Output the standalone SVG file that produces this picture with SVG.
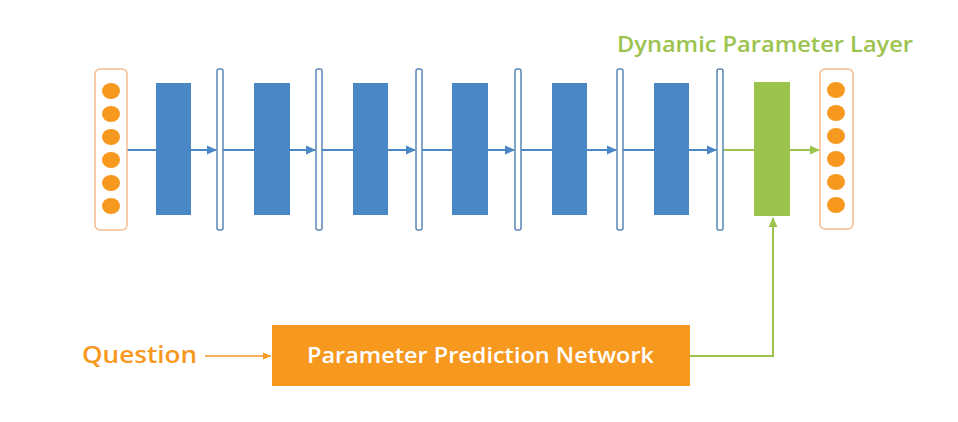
<svg xmlns="http://www.w3.org/2000/svg" width="958" height="422" viewBox="0 0 958 422">
<defs>
<style>
.io{fill:#fff;stroke:#F6BC8E;stroke-width:1.5}
.dot{fill:#F7981F}
.blk{fill:#4A87C7}
.bar{fill:#fff;stroke:#5B87B8;stroke-width:1.5}
.grn{fill:#9DC34F}
.cb{stroke:#4A87C7;stroke-width:2;fill:none}
.cg{stroke:#9DC34F;stroke-width:2;fill:none}
.co{stroke:#F7981F;stroke-width:1.5;fill:none}
.t{font-family:"Open Sans","Liberation Sans",sans-serif;font-weight:600}
</style>
<marker id="ab" markerWidth="11" markerHeight="11" refX="9" refY="5.5" orient="auto" markerUnits="userSpaceOnUse"><path d="M0,1 L10,5.5 L0,10 Z" fill="#4A87C7"/></marker>
<marker id="ag" markerWidth="11" markerHeight="11" refX="9" refY="5.5" orient="auto" markerUnits="userSpaceOnUse"><path d="M0,1 L10,5.5 L0,10 Z" fill="#9DC34F"/></marker>
<marker id="ao" markerWidth="10" markerHeight="10" refX="8" refY="5" orient="auto" markerUnits="userSpaceOnUse"><path d="M0,1.5 L8,5 L0,8.5 Z" fill="#F7981F"/></marker>
</defs>
<rect width="958" height="422" fill="#fff"/>
<g id="connectors">
<line class="cb" x1="127" y1="150" x2="216" y2="150" marker-end="url(#ab)"/>
<line class="cb" x1="223" y1="150" x2="315" y2="150" marker-end="url(#ab)"/>
<line class="cb" x1="322" y1="150" x2="415" y2="150" marker-end="url(#ab)"/>
<line class="cb" x1="422" y1="150" x2="514" y2="150" marker-end="url(#ab)"/>
<line class="cb" x1="521" y1="150" x2="616" y2="150" marker-end="url(#ab)"/>
<line class="cb" x1="623" y1="150" x2="716" y2="150" marker-end="url(#ab)"/>
<line class="cg" x1="723" y1="150" x2="819" y2="150" marker-end="url(#ag)"/>
<polyline class="cg" points="690,356 773,356 773,218" marker-end="url(#ag)"/>
<line class="co" x1="205" y1="356" x2="271" y2="356" marker-end="url(#ao)"/>
</g>
<g id="input">
<rect class="io" x="95" y="69" width="32" height="161" rx="5"/>
<ellipse class="dot" cx="111" cy="91" rx="9" ry="8"/>
<ellipse class="dot" cx="111" cy="114" rx="9" ry="8"/>
<ellipse class="dot" cx="111" cy="137" rx="9" ry="8"/>
<ellipse class="dot" cx="111" cy="160" rx="9" ry="8"/>
<ellipse class="dot" cx="111" cy="183" rx="9" ry="8"/>
<ellipse class="dot" cx="111" cy="206" rx="9" ry="8"/>
</g>
<g id="layer1"><rect class="blk" x="156" y="83" width="35" height="132"/></g>
<g id="bar1"><rect class="bar" x="217" y="69" width="6" height="161" rx="2"/></g>
<g id="layer2"><rect class="blk" x="254" y="83" width="36" height="132"/></g>
<g id="bar2"><rect class="bar" x="316" y="69" width="6" height="161" rx="2"/></g>
<g id="layer3"><rect class="blk" x="353" y="83" width="35" height="132"/></g>
<g id="bar3"><rect class="bar" x="416" y="69" width="6" height="161" rx="2"/></g>
<g id="layer4"><rect class="blk" x="452" y="83" width="36" height="132"/></g>
<g id="bar4"><rect class="bar" x="515" y="69" width="6" height="161" rx="2"/></g>
<g id="layer5"><rect class="blk" x="552" y="83" width="35" height="132"/></g>
<g id="bar5"><rect class="bar" x="617" y="69" width="6" height="161" rx="2"/></g>
<g id="layer6"><rect class="blk" x="654" y="83" width="35" height="132"/></g>
<g id="bar6"><rect class="bar" x="717" y="69" width="6" height="161" rx="2"/></g>
<g id="dynamic-layer">
<rect class="grn" x="754" y="82" width="36" height="134"/>
<text class="t" x="617" y="52" font-size="21" fill="#9DC34F" textLength="296" lengthAdjust="spacingAndGlyphs">Dynamic Parameter Layer</text>
</g>
<g id="output">
<rect class="io" x="820" y="69" width="33" height="160" rx="5"/>
<ellipse class="dot" cx="836" cy="90" rx="9" ry="8"/>
<ellipse class="dot" cx="836" cy="113" rx="9" ry="8"/>
<ellipse class="dot" cx="836" cy="136" rx="9" ry="8"/>
<ellipse class="dot" cx="836" cy="159" rx="9" ry="8"/>
<ellipse class="dot" cx="836" cy="182" rx="9" ry="8"/>
<ellipse class="dot" cx="836" cy="205" rx="9" ry="8"/>
</g>
<g id="question">
<text class="t" x="82" y="363" font-size="24" fill="#F7981F" textLength="115" lengthAdjust="spacingAndGlyphs">Question</text>
</g>
<g id="ppn">
<rect x="272" y="325" width="418" height="61" fill="#F7981F"/>
<text class="t" x="307" y="363" font-size="21" fill="#fff" textLength="347" lengthAdjust="spacingAndGlyphs">Parameter Prediction Network</text>
</g>
</svg>
